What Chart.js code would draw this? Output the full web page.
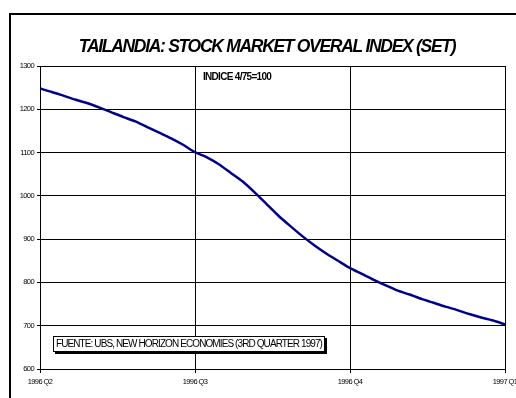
<!DOCTYPE html>
<html>
<head>
<meta charset="utf-8">
<script src="https://cdn.jsdelivr.net/npm/chart.js@4.4.0/dist/chart.umd.min.js"></script>
<style>
  html, body { margin: 0; padding: 0; background: #fff; }
  #wrap { width: 516px; height: 398px; position: relative; }
</style>
</head>
<body>
<div id="wrap"><canvas id="set"></canvas></div>
<script>
// weekly SET index, 1996 Q2 -> 1997 Q1 (13 weeks per quarter)
const weeks = Array.from({ length: 40 }, (_, i) => i);
const setIndex = [
  1248, 1240, 1231, 1222, 1214, 1204, 1193, 1182, 1172, 1159,
  1146, 1133, 1118, 1101, 1089, 1073, 1053, 1033, 1008, 981,
  954, 930, 907, 886, 867, 850, 833, 820, 806, 793,
  781, 772, 762, 753, 744, 736, 727, 719, 712, 703
];
const quarterTicks = [0, 13, 26, 39];
const quarterLabels = ['1996 Q2', '1996 Q3', '1996 Q4', '1997 Q1'];
const yTicks = [600, 700, 800, 900, 1000, 1100, 1200, 1300];

const titleText = 'TAILANDIA: STOCK MARKET OVERAL INDEX (SET)';
const noteText = 'INDICE 4/75=100';
const sourceText = 'FUENTE: UBS, NEW HORIZON ECONOMIES (3RD QUARTER 1997)';

const FONT = '"Liberation Sans", Arial, sans-serif';

const decor = {
  id: 'decor',
  beforeDraw(chart) {
    chart.ctx.letterSpacing = '-0.6px';
  },
  afterDraw(chart) {
    const c = chart.ctx;
    c.save();
    // outer frame
    c.strokeStyle = '#000';
    c.lineWidth = 2;
    c.beginPath();
    c.moveTo(10, 398);
    c.lineTo(10, 14);
    c.lineTo(516, 14);
    c.stroke();

    // title
    c.fillStyle = '#000';
    c.letterSpacing = '-1.3px';
    c.font = 'italic bold 17.5px ' + FONT;
    c.textAlign = 'center';
    c.textBaseline = 'middle';
    c.fillText(titleText, 267, 47);

    // note
    c.letterSpacing = '-0.7px';
    c.font = 'bold 10px ' + FONT;
    c.textAlign = 'left';
    c.fillText(noteText, 203, 77);

    // source box with shadow
    c.fillStyle = '#000';
    c.fillRect(55, 338, 272, 16);
    c.fillStyle = '#fff';
    c.fillRect(53, 336, 272, 16);
    c.strokeStyle = '#000';
    c.lineWidth = 1;
    c.strokeRect(53.5, 336.5, 271, 15);
    c.fillStyle = '#000';
    c.font = '10px ' + FONT;
    c.letterSpacing = '-0.9px';
    c.fillText(sourceText, 56, 344.5);
    c.restore();
  }
};

new Chart(document.getElementById('set'), {
  type: 'line',
  data: {
    labels: weeks,
    datasets: [{
      data: setIndex,
      borderColor: '#00008b',
      borderWidth: 2.5,
      pointRadius: 0,
      tension: 0.2
    }]
  },
  options: {
    responsive: true,
    maintainAspectRatio: false,
    animation: false,
    layout: { padding: { left: 10, top: 66, right: 11, bottom: 0 } },
    plugins: { legend: { display: false }, tooltip: { enabled: false } },
    scales: {
      x: {
        type: 'linear',
        min: 0,
        max: 39,
        afterBuildTicks: (s) => { s.ticks = quarterTicks.map(v => ({ value: v })); },
        afterFit: (s) => { s.height = 29; s.paddingLeft = 0; s.paddingRight = 0; },
        ticks: {
          maxRotation: 0,
          autoSkip: false,
          padding: 4,
          color: '#000',
          font: { family: FONT, size: 7.5 },
          callback: (v) => quarterLabels[quarterTicks.indexOf(v)]
        },
        grid: { color: '#000', lineWidth: 1, tickLength: 4 },
        border: { color: '#000', width: 1 }
      },
      y: {
        min: 600,
        max: 1300,
        afterBuildTicks: (s) => { s.ticks = yTicks.map(v => ({ value: v })); },
        afterFit: (s) => { s.width = 30; s.paddingTop = 0; s.paddingBottom = 0; },
        ticks: {
          padding: 3,
          color: '#000',
          font: { family: FONT, size: 7.5 },
          callback: (v) => String(v)
        },
        grid: { color: '#000', lineWidth: 1, tickLength: 3 },
        border: { color: '#000', width: 1 }
      }
    }
  },
  plugins: [decor]
});
</script>
</body>
</html>
